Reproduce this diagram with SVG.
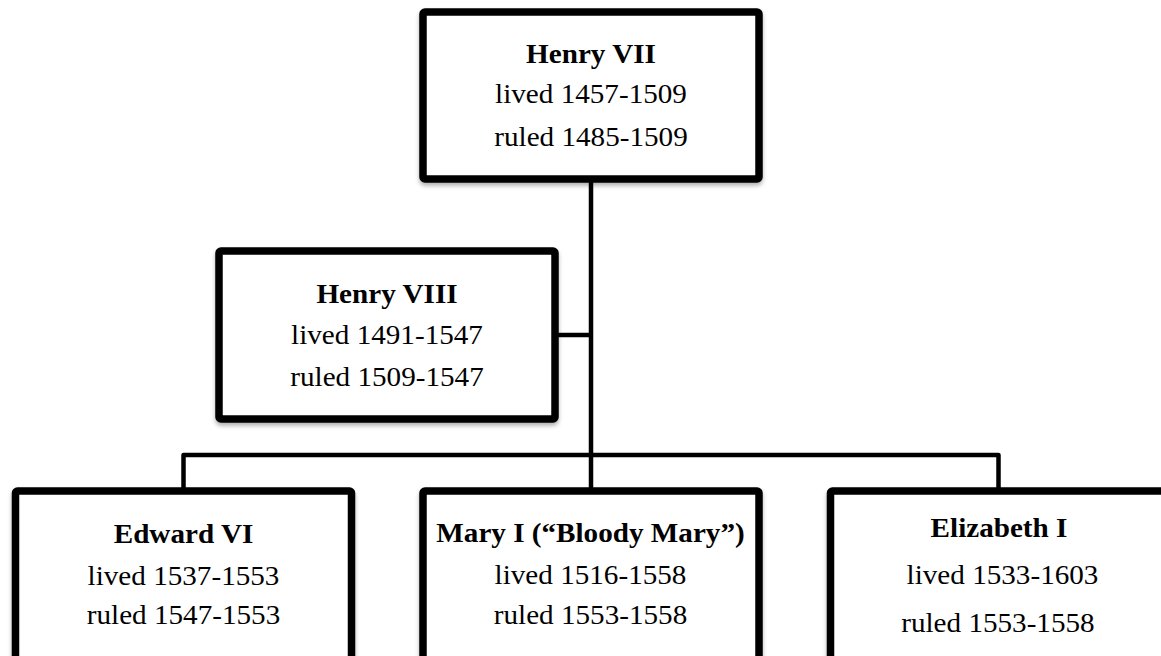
<svg xmlns="http://www.w3.org/2000/svg" width="1161" height="656" viewBox="0 0 1161 656">
  <style>
    .box { fill: #ffffff; stroke: #000000; stroke-width: 7.5; stroke-linejoin: round; filter: url(#shadow); }
    .link { fill: none; stroke: #000000; stroke-width: 4.5; stroke-linejoin: round; }
    text { font-family: "Liberation Serif", "Times New Roman", serif; font-size: 27.5px; fill: #000000; text-anchor: middle; }
    .name { font-weight: bold; }
  </style>
  <defs>
    <filter id="shadow" x="-5%" y="-5%" width="110%" height="115%">
      <feDropShadow dx="0" dy="3" stdDeviation="2" flood-color="#000000" flood-opacity="0.3"/>
    </filter>
  </defs>
  <rect width="1161" height="656" fill="#ffffff"/>

  <!-- connectors -->
  <g id="connectors">
    <line class="link" x1="591" y1="182" x2="591" y2="455"/>
    <line class="link" x1="558" y1="335" x2="591" y2="335"/>
    <path class="link" d="M183.5 488 V455 H998.5 V488"/>
    <line class="link" x1="591" y1="455" x2="591" y2="488"/>
  </g>

  <!-- Henry VII -->
  <g id="henry-vii">
    <rect class="box" x="423" y="12" width="336" height="167" rx="2"/>
    <g transform="translate(591,0) scale(1.06,1)">
      <text class="name" x="0" y="63">Henry VII</text>
      <text x="0" y="103.5">lived 1457-1509</text>
      <text x="0" y="146.5">ruled 1485-1509</text>
    </g>
  </g>

  <!-- Henry VIII -->
  <g id="henry-viii">
    <rect class="box" x="219" y="251" width="336" height="168" rx="2"/>
    <g transform="translate(387,0) scale(1.06,1)">
      <text class="name" x="0" y="303">Henry VIII</text>
      <text x="0" y="344">lived 1491-1547</text>
      <text x="0" y="386.5">ruled 1509-1547</text>
    </g>
  </g>

  <!-- Edward VI -->
  <g id="edward-vi">
    <rect class="box" x="15.5" y="491" width="336" height="200" rx="2"/>
    <g transform="translate(183.5,0) scale(1.06,1)">
      <text class="name" x="0" y="543">Edward VI</text>
      <text x="0" y="585">lived 1537-1553</text>
      <text x="0" y="624">ruled 1547-1553</text>
    </g>
  </g>

  <!-- Mary I -->
  <g id="mary-i">
    <rect class="box" x="423" y="491" width="336" height="200" rx="2"/>
    <g transform="translate(590.5,0) scale(1.06,1)">
      <text class="name" x="0" y="542">Mary I (“Bloody Mary”)</text>
      <text x="0" y="584">lived 1516-1558</text>
      <text x="0" y="624">ruled 1553-1558</text>
    </g>
  </g>

  <!-- Elizabeth I -->
  <g id="elizabeth-i">
    <rect class="box" x="830.5" y="491" width="336" height="200" rx="2"/>
    <g transform="translate(999,0) scale(1.06,1)">
      <text class="name" x="0" y="537">Elizabeth I</text>
      <text x="3.3" y="584">lived 1533-1603</text>
      <text x="-1" y="632">ruled 1553-1558</text>
    </g>
  </g>
</svg>
